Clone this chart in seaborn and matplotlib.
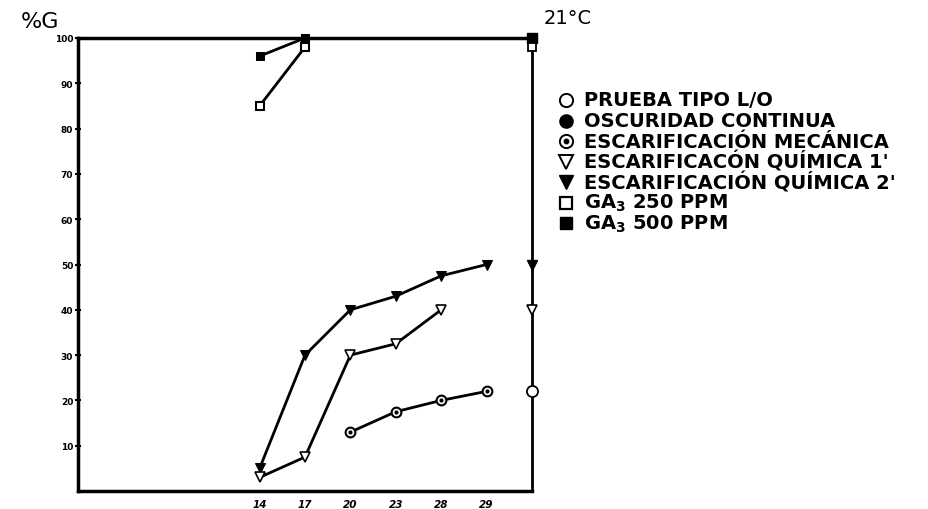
import matplotlib
matplotlib.use("Agg")
import matplotlib.pyplot as plt
from matplotlib.lines import Line2D
import numpy as np
import pandas as pd
import seaborn as sns

# data
temps = ["14", "17", "20", "23", "28", "29"]
ga3_500 = [96, 100, None, None, None, None]
ga3_250 = [85, 98, None, None, None, None]
quim_2 = [5, 30, 40, 43, 47.5, 50]
quim_1 = [3, 7.5, 30, 32.5, 40, None]
mecanica = [None, None, 13, 17.5, 20, 22]
# values marked on the right-hand axis
right_vals = {"lo": 22, "q1": 40, "q2": 50, "g250": 98, "g500": 100}

legend_labels = ["PRUEBA TIPO L/O", "OSCURIDAD CONTINUA", "ESCARIFICACIÓN MECÁNICA",
                 "ESCARIFICACÓN QUÍMICA 1'", "ESCARIFICACIÓN QUÍMICA 2'",
                 "GA$_3$ 250 PPM", "GA$_3$ 500 PPM"]

sns.set_theme(style="white")
plt.rcParams['font.family'] = ['DejaVu Sans']
plt.rcParams['mathtext.default'] = 'regular'
plt.rcParams['text.color'] = 'black'
plt.rcParams['xtick.color'] = 'black'
plt.rcParams['ytick.color'] = 'black'

fig = plt.figure(figsize=(9.29, 5.10), dpi=100)
ax = fig.add_axes([78 / 929, 1 - 492 / 510, (532 - 78) / 929, (492 - 39) / 510])

x = np.arange(len(temps))
lw = 2.0


def draw(vals, **kw):
    s = pd.Series(vals, index=x, dtype=float).dropna()
    sns.lineplot(x=s.index, y=s.values, ax=ax, color="black", linewidth=lw,
                 markersize=kw.pop("ms", 6), clip_on=False, **kw)


draw(ga3_500, marker="s", markerfacecolor="black", markeredgecolor="black")
draw(ga3_250, marker="s", markerfacecolor="white", markeredgecolor="black", markeredgewidth=1.5)
draw(quim_2, marker="v", markerfacecolor="black", markeredgecolor="black", ms=7)
draw(quim_1, marker="v", markerfacecolor="white", markeredgecolor="black", markeredgewidth=1.2, ms=7)
draw(mecanica, marker="o", markerfacecolor="white", markeredgecolor="black", markeredgewidth=1.5, ms=7)
m = pd.Series(mecanica, index=x, dtype=float).dropna()
ax.plot(m.index, m.values, ls="none", marker="o", ms=2, color="black")

# markers on the right spine
xr = 6
ax.plot([xr], [right_vals["lo"]], marker="o", ms=8, mfc="white", mec="black", mew=1.3, clip_on=False, zorder=5)
ax.plot([xr], [right_vals["q1"]], marker="v", ms=7, mfc="white", mec="black", mew=1.2, clip_on=False, zorder=5)
ax.plot([xr], [right_vals["q2"]], marker="v", ms=7, mfc="black", mec="black", clip_on=False, zorder=5)
ax.plot([xr], [right_vals["g500"]], marker="s", ms=7, mfc="black", mec="black", clip_on=False, zorder=5)
ax.plot([xr], [right_vals["g250"]], marker="s", ms=6, mfc="white", mec="black", mew=1.3, clip_on=False, zorder=6)

ax.set_xlim(-4, 6)
ax.set_ylim(0, 100)
ax.set_xticks(x)
ax.set_xticklabels(temps, fontsize=7.5, fontweight="bold", fontstyle="italic", color="black")
ax.set_yticks(np.arange(10, 101, 10))
ax.set_yticklabels([str(v) for v in range(10, 101, 10)], fontsize=6.5, fontweight="bold", color="black")
ax.tick_params(axis="y", direction="inout", length=5, width=1.5, pad=1, left=True, colors="black")
ax.tick_params(axis="x", length=0, pad=6, colors="black")
ax.set_xlabel("")
ax.set_ylabel("")
for side in ["left", "bottom", "top"]:
    ax.spines[side].set_linewidth(2.5)
    ax.spines[side].set_color("black")
ax.spines["right"].set_linewidth(2.0)
ax.spines["right"].set_color("black")

fig.text(21 / 929, 1 - 22 / 510, "%G", fontsize=16, va="center", ha="left", color="black")
fig.text(568 / 929, 1 - 18 / 510, "21°C", fontsize=14, va="center", ha="center", color="black")

# legend
styles = [dict(marker="o", mfc="white", mec="black", mew=1.4, ms=9.5),
          dict(marker="o", mfc="black", mec="black", ms=9.5),
          dict(marker="o", mfc="white", mec="black", mew=1.4, ms=9.5),
          dict(marker="v", mfc="white", mec="black", mew=1.4, ms=9.5),
          dict(marker="v", mfc="black", mec="black", ms=9.5),
          dict(marker="s", mfc="white", mec="black", mew=1.6, ms=8),
          dict(marker="s", mfc="black", mec="black", ms=8)]
for i, (lab, st) in enumerate(zip(legend_labels, styles)):
    yp = 101 + i * 20.5
    fig.add_artist(Line2D([566 / 929], [1 - yp / 510], ls="none", transform=fig.transFigure, **st))
    if i == 2:
        fig.add_artist(Line2D([566 / 929], [1 - yp / 510], ls="none", marker="o", ms=3.2,
                              color="black", transform=fig.transFigure))
    fig.text(584 / 929, 1 - yp / 510, lab, fontsize=14, fontweight="bold", va="center", ha="left",
             color="black")

fig.savefig("out.png", dpi=100)
